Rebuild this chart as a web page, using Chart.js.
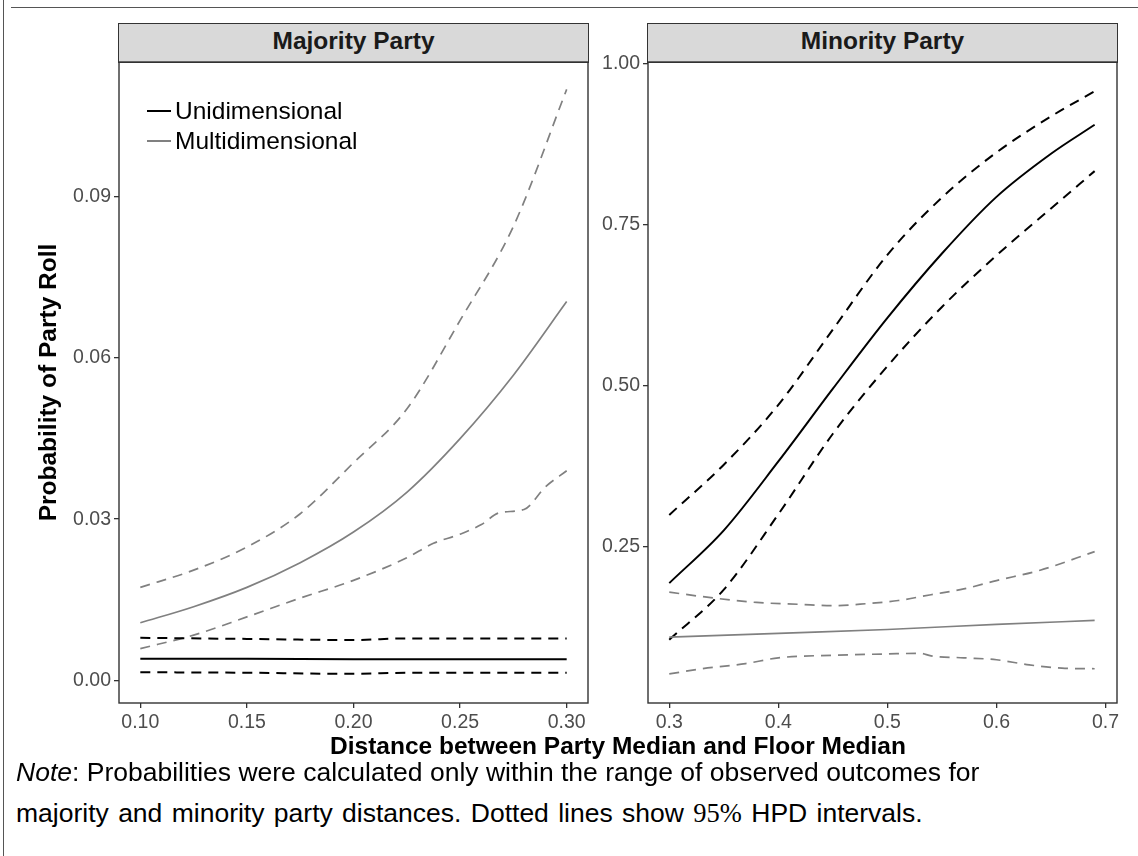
<!DOCTYPE html>
<html>
<head>
<meta charset="utf-8">
<title>Probability of Party Roll</title>
<script src="https://cdn.jsdelivr.net/npm/chart.js@4.4.1/dist/chart.umd.min.js"></script>
<style>
  html, body { margin: 0; padding: 0; background: #ffffff; }
  body { position: relative; width: 1138px; height: 856px; overflow: hidden;
         font-family: "Liberation Sans", Arial, Helvetica, sans-serif; }
  .rule { position: absolute; background: #555555; }
  .strip { position: absolute; top: 23.3px; height: 39.4px; width: 470.4px; box-sizing: border-box;
           background: #d9d9d9; border: 1.4px solid #333333; }
  .stripText { position: absolute; top: 29.3px; width: 470px; font-weight: bold; font-size: 24.5px;
               line-height: 24.5px; color: #1a1a1a; text-align: center; white-space: nowrap; }
  canvas { position: absolute; }
  .key { position: absolute; left: 146.7px; width: 24px; height: 2px; }
  .keyText { position: absolute; left: 175px; font-size: 24.5px; line-height: 24.5px; color: #000; white-space: nowrap; }
  #xTitle { position: absolute; left: 0; width: 1236px; top: 734.3px; text-align: center;
            font-weight: bold; font-size: 24.5px; line-height: 24.5px; color: #000; white-space: nowrap; }
  .note { position: absolute; left: 16px; font-size: 26.5px; line-height: 26.5px; color: #000; white-space: nowrap; }
  .math { font-family: "Liberation Serif", "DejaVu Serif", serif; }
</style>
</head>
<body>
<div class="rule" style="left:2.7px; top:0; width:1.4px; height:856px;"></div>
<div class="rule" style="left:11px; top:6.6px; width:1127px; height:1.4px;"></div>

<div class="strip" style="left:118.3px;"></div>
<div class="stripText" style="left:118.5px;">Majority Party</div>
<div class="strip" style="left:647.3px;"></div>
<div class="stripText" style="left:647.5px;">Minority Party</div>

<canvas id="majority" width="610" height="740" style="left:0; top:40px;"></canvas>
<canvas id="minority" width="538" height="740" style="left:600px; top:40px;"></canvas>

<div class="key" style="top:109.7px; background:#000000;"></div>
<div class="keyText" style="top:98.6px;">Unidimensional</div>
<div class="key" style="top:139.7px; background:#808080;"></div>
<div class="keyText" style="top:129.3px;">Multidimensional</div>

<div id="xTitle">Distance between Party Median and Floor Median</div>

<div class="note" style="top:759.3px;"><i>Note</i>: Probabilities were calculated only within the range of observed outcomes for</div>
<div class="note" style="top:800.3px; word-spacing:2px;">majority and minority party distances. Dotted lines show <span class="math">95%</span> HPD intervals.</div>

<script>
// ---- Majority party: distance 0.10-0.30 ----
const majX = [0.10, 0.125, 0.15, 0.175, 0.20, 0.225, 0.25, 0.275, 0.30];
const majMultiMean  = [0.0107, 0.0137, 0.0173, 0.0219, 0.0276, 0.0350, 0.0450, 0.0568, 0.0705];
const majMultiUpper = [0.0173, 0.0205, 0.0248, 0.0310, 0.0405, 0.0505, 0.0670, 0.0845, 0.1100];
const majMultiLowerX = [0.10, 0.125, 0.15, 0.175, 0.20, 0.225, 0.2375, 0.25, 0.26, 0.2685, 0.28, 0.29, 0.30];
const majMultiLower  = [0.0059, 0.0084, 0.0118, 0.0153, 0.0186, 0.0228, 0.0255, 0.0272, 0.0290, 0.0312, 0.0318, 0.0360, 0.0390];
const majUniX     = [0.10, 0.15, 0.20, 0.225, 0.30];
const majUniMean  = [0.0040, 0.0040, 0.0039, 0.0039, 0.0039];
const majUniUpper = [0.0079, 0.0077, 0.0075, 0.0078, 0.0078];
const majUniLower = [0.0015, 0.0014, 0.0012, 0.0014, 0.0014];

// ---- Minority party: distance 0.30-0.69 ----
const minX = [0.30, 0.35, 0.40, 0.45, 0.50, 0.55, 0.60, 0.65, 0.69];
const minUniMean  = [0.193, 0.275, 0.382, 0.495, 0.605, 0.705, 0.793, 0.860, 0.905];
const minUniUpper = [0.299, 0.377, 0.470, 0.587, 0.703, 0.792, 0.862, 0.918, 0.957];
const minUniLower = [0.105, 0.183, 0.300, 0.425, 0.530, 0.622, 0.702, 0.775, 0.833];
const minMultiX    = [0.30, 0.40, 0.50, 0.60, 0.69];
const minMultiMean = [0.109, 0.115, 0.121, 0.129, 0.135];
const minMultiUpperX = [0.30, 0.34, 0.38, 0.42, 0.45, 0.48, 0.51, 0.54, 0.57, 0.60, 0.64, 0.69];
const minMultiUpper  = [0.179, 0.170, 0.163, 0.160, 0.158, 0.161, 0.166, 0.175, 0.184, 0.197, 0.213, 0.242];
const minMultiLowerX = [0.30, 0.33, 0.37, 0.40, 0.45, 0.50, 0.53, 0.54, 0.57, 0.60, 0.63, 0.66, 0.69];
const minMultiLower  = [0.052, 0.060, 0.068, 0.077, 0.081, 0.083, 0.084, 0.080, 0.077, 0.074, 0.066, 0.061, 0.060];

// ---- Axis ticks ----
const majXTicks = [0.10, 0.15, 0.20, 0.25, 0.30];
const majXLabels = ['0.10', '0.15', '0.20', '0.25', '0.30'];
const majYTicks = [0.00, 0.03, 0.06, 0.09];
const majYLabels = ['0.00', '0.03', '0.06', '0.09'];
const minXTicks = [0.3, 0.4, 0.5, 0.6, 0.7];
const minXLabels = ['0.3', '0.4', '0.5', '0.6', '0.7'];
const minYTicks = [0.25, 0.50, 0.75, 1.00];
const minYLabels = ['0.25', '0.50', '0.75', '1.00'];

const FONT = '"Liberation Sans", Arial, Helvetica, sans-serif';
const BLACK = '#000000';
const GREY = '#808080';
const DASH = [10, 7];

function points(xs, ys) {
  return xs.map((x, i) => ({ x: x, y: ys[i] }));
}

function line(label, xs, ys, color, dashed, width) {
  return {
    label: label,
    data: points(xs, ys),
    borderColor: color,
    borderWidth: width,
    borderDash: dashed ? DASH : [],
    borderCapStyle: 'butt',
    pointRadius: 0,
    pointHoverRadius: 0,
    fill: false,
    cubicInterpolationMode: 'monotone'
  };
}

// box drawn round the plotting region of each panel
const panelFrame = {
  id: 'panelFrame',
  afterDatasetsDraw(chart) {
    const { ctx, chartArea: a } = chart;
    ctx.save();
    ctx.strokeStyle = '#333333';
    ctx.lineWidth = 1.4;
    ctx.strokeRect(a.left, a.top, a.right - a.left, a.bottom - a.top);
    ctx.restore();
  }
};

function fixedTicks(values) {
  return function (scale) { scale.ticks = values.map(v => ({ value: v })); };
}

function axis(min, max, ticks, labels, fit) {
  return {
    type: 'linear',
    min: min,
    max: max,
    afterBuildTicks: fixedTicks(ticks),
    afterFit: fit,
    ticks: {
      callback: (v, i) => labels[i],
      color: '#4d4d4d',
      font: { family: FONT, size: 19.5 },
      padding: 3,
      maxRotation: 0,
      autoSkip: false
    },
    grid: {
      display: true,
      drawOnChartArea: false,
      drawTicks: true,
      tickLength: 5,
      color: '#333333',
      lineWidth: 1.3
    },
    border: { display: false }
  };
}

function panel(canvasId, datasets, xAxis, yAxis, padRight) {
  return new Chart(document.getElementById(canvasId), {
    type: 'line',
    data: { datasets: datasets },
    options: {
      responsive: false,
      animation: false,
      devicePixelRatio: 1,
      layout: { padding: { top: 22, right: padRight, bottom: 0, left: 0 } },
      plugins: { legend: { display: false }, tooltip: { enabled: false } },
      scales: { x: xAxis, y: yAxis }
    },
    plugins: [panelFrame]
  });
}

const majYAxis = axis(-0.00423, 0.1151, majYTicks, majYLabels, s => { s.width = 119; });
majYAxis.title = {
  display: true,
  text: 'Probability of Party Roll',
  color: '#000000',
  font: { family: FONT, size: 24.5, weight: 'bold', lineHeight: 1.2 },
  padding: { top: 34.3, bottom: 0 }
};

panel('majority', [
  line('Unidimensional', majUniX, majUniMean, BLACK, false, 2),
  line('Unidimensional upper', majUniX, majUniUpper, BLACK, true, 2),
  line('Unidimensional lower', majUniX, majUniLower, BLACK, true, 2),
  line('Multidimensional', majX, majMultiMean, GREY, false, 1.7),
  line('Multidimensional upper', majX, majMultiUpper, GREY, true, 1.7),
  line('Multidimensional lower', majMultiLowerX, majMultiLower, GREY, true, 1.7)
], axis(0.09, 0.31, majXTicks, majXLabels, s => { s.height = 77; }), majYAxis, 22);

panel('minority', [
  line('Multidimensional', minMultiX, minMultiMean, GREY, false, 1.7),
  line('Multidimensional upper', minMultiUpperX, minMultiUpper, GREY, true, 1.7),
  line('Multidimensional lower', minMultiLowerX, minMultiLower, GREY, true, 1.7),
  line('Unidimensional', minX, minUniMean, BLACK, false, 2),
  line('Unidimensional upper', minX, minUniUpper, BLACK, true, 2),
  line('Unidimensional lower', minX, minUniLower, BLACK, true, 2)
], axis(0.2805, 0.7105, minXTicks, minXLabels, s => { s.height = 77; }),
   axis(0.0068, 1.0025, minYTicks, minYLabels, s => { s.width = 48; }), 21);
</script>
</body>
</html>
